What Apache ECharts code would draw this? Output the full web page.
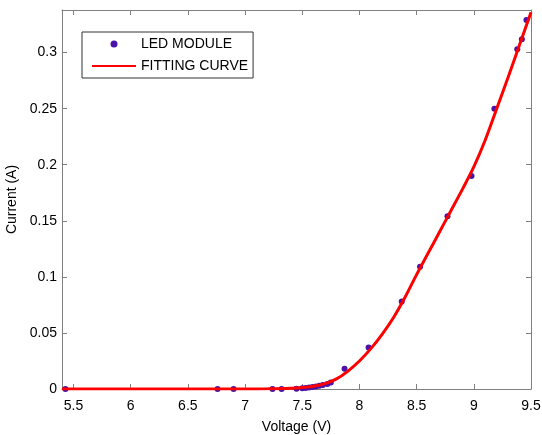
<!DOCTYPE html>
<html>
<head>
<meta charset="utf-8">
<script src="https://cdn.jsdelivr.net/npm/echarts@6/dist/echarts.min.js"></script>
<style>
    html, body { margin: 0; padding: 0; background: #fff; }
    #chart { width: 542px; height: 435px; }
</style>
</head>
<body>
<div id="chart"></div>
<script>
    // measured points (V, A)
    const ledVoltage = [5.43, 6.76, 6.90, 7.24, 7.32, 7.45, 7.50, 7.53, 7.56, 7.59, 7.62, 7.65, 7.68, 7.72, 7.75, 7.87, 8.08, 8.37, 8.53, 8.77, 8.98, 9.18, 9.38, 9.42, 9.46];
    const ledCurrent = [0, 0, 0, 0, 0, 0.0003, 0.0006, 0.001, 0.0013, 0.0017, 0.0022, 0.0028, 0.0035, 0.0045, 0.0058, 0.018, 0.037, 0.078, 0.109, 0.154, 0.190, 0.250, 0.303, 0.312, 0.329];

    // fitted curve samples
    const fitVoltage = [5.4, 6.0, 6.5, 7.0, 7.2, 7.4, 7.5, 7.6, 7.7, 7.8, 7.9, 8.0, 8.1, 8.2, 8.3, 8.4, 8.5, 8.6, 8.7, 8.8, 8.9, 9.0, 9.1, 9.2, 9.3, 9.4, 9.5];
    const fitCurrent = [0, 0, 0, 0, 0.0002, 0.0007, 0.0013, 0.0025, 0.0048, 0.009, 0.016, 0.025, 0.036, 0.049, 0.064, 0.082, 0.102, 0.121, 0.140, 0.159, 0.178, 0.198, 0.222, 0.250, 0.278, 0.307, 0.336];

    const xTicks = [5.5, 6, 6.5, 7, 7.5, 8, 8.5, 9, 9.5];
    const yTicks = [0, 0.05, 0.1, 0.15, 0.2, 0.25, 0.3];

    const axisGray = '#808080';
    const font = 'Liberation Sans, Arial, sans-serif';

    const chart = echarts.init(document.getElementById('chart'));

    const baseX = {
        type: 'value',
        min: 5.4,
        max: 9.5,
        axisLine: { show: true, onZero: false, lineStyle: { color: axisGray } },
        axisTick: { show: true, inside: true, length: 5, customValues: xTicks, lineStyle: { color: axisGray } },
        splitLine: { show: false }
    };
    const baseY = {
        type: 'value',
        min: 0,
        max: 0.338,
        axisLine: { show: true, onZero: false, lineStyle: { color: axisGray } },
        axisTick: { show: true, inside: true, length: 5, customValues: yTicks, lineStyle: { color: axisGray } },
        splitLine: { show: false }
    };

    const option = {
        animation: false,
        backgroundColor: '#fff',
        grid: { left: 62, right: 11, top: 10, bottom: 46, containLabel: false, outerBoundsMode: 'none' },
        legend: {
            left: 82,
            top: 32,
            orient: 'vertical',
            itemWidth: 44,
            itemHeight: 7,
            itemGap: 8,
            padding: [5, 5, 5, 9],
            borderColor: '#333',
            borderWidth: 1,
            backgroundColor: '#fff',
            textStyle: { fontFamily: font, fontSize: 14, color: '#000' },
            data: [
                { name: 'LED MODULE' },
                { name: 'FITTING CURVE', itemStyle: { color: 'rgba(0,0,0,0)', borderWidth: 0 } }
            ]
        },
        xAxis: [
            Object.assign({}, baseX, {
                position: 'bottom',
                name: 'Voltage (V)',
                nameLocation: 'middle',
                nameGap: 31,
                nameTextStyle: { fontFamily: font, fontSize: 14, color: '#000' },
                axisLabel: { customValues: xTicks, margin: 10, fontFamily: font, fontSize: 14, color: '#000' }
            }),
            Object.assign({}, baseX, { position: 'top', axisLabel: { show: false } })
        ],
        yAxis: [
            Object.assign({}, baseY, {
                position: 'left',
                name: 'Current (A)',
                nameLocation: 'middle',
                nameGap: 39,
                nameTextStyle: { fontFamily: font, fontSize: 14, color: '#000' },
                axisLabel: { customValues: yTicks, margin: 5, fontFamily: font, fontSize: 14, color: '#000' }
            }),
            Object.assign({}, baseY, { position: 'right', axisLabel: { show: false } })
        ],
        series: [
            {
                name: 'LED MODULE',
                type: 'scatter',
                symbol: 'circle',
                symbolSize: 6,
                itemStyle: { color: '#4a12a8', opacity: 1 },
                z: 2,
                data: ledVoltage.map((v, i) => [v, ledCurrent[i]])
            },
            {
                name: 'FITTING CURVE',
                type: 'line',
                smooth: 0.3,
                showSymbol: false,
                symbol: 'none',
                lineStyle: { color: '#ff0000', width: 3 },
                itemStyle: { color: '#ff0000' },
                z: 3,
                data: fitVoltage.map((v, i) => [v, fitCurrent[i]])
            }
        ]
    };

    chart.setOption(option);
</script>
</body>
</html>
